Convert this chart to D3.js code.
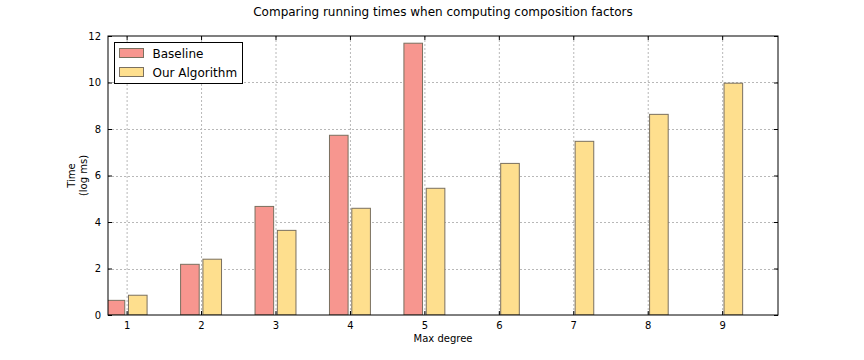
<!DOCTYPE html>
<html>
<head>
<meta charset="utf-8">
<script src="https://cdn.jsdelivr.net/npm/d3@7"></script>
<style>
  body { margin: 0; background: #fff; }
  svg { display: block; font-family: "DejaVu Sans", sans-serif; }
</style>
</head>
<body>
<div id="chart"></div>
<script>
// Data
const degrees = [1, 2, 3, 4, 5, 6, 7, 8, 9];
const baselineTimes = [0.63, 2.18, 4.67, 7.73, 11.69, null, null, null, null];
const ourTimes = [0.85, 2.40, 3.64, 4.59, 5.45, 6.52, 7.47, 8.63, 9.97];
const yTicks = [0, 2, 4, 6, 8, 10, 12];
const seriesNames = ['Baseline', 'Our Algorithm'];

// Layout
const width = 864;
const height = 360;
const margin = { left: 108, right: 86, top: 36, bottom: 45 };
const plotW = width - margin.left - margin.right;
const plotH = height - margin.top - margin.bottom;

const colors = ['#f7968f', '#fedf8e'];
const edgeColor = '#7a705f';
const barW = 0.25;
const offsets = [-0.275, 0.025];

const svg = d3.select('#chart')
    .append('svg')
    .attr('width', width)
    .attr('height', height);

const xScale = d3.scaleLinear()
    .domain([0.75, 9.75])
    .range([margin.left, margin.left + plotW]);

const yScale = d3.scaleLinear()
    .domain([0, 12])
    .range([margin.top + plotH, margin.top]);

// Clip so the first bar is cut at the axes edge
svg.append('clipPath')
    .attr('id', 'plot-clip')
    .append('rect')
    .attr('x', margin.left)
    .attr('y', margin.top)
    .attr('width', plotW)
    .attr('height', plotH);

// Grid lines
const grid = svg.append('g').attr('class', 'grid');
grid.selectAll('.gx')
    .data(degrees)
    .enter()
    .append('line')
    .attr('x1', d => xScale(d) + 0.5)
    .attr('x2', d => xScale(d) + 0.5)
    .attr('y1', margin.top)
    .attr('y2', margin.top + plotH)
    .attr('stroke', '#b8b8b8')
    .attr('stroke-dasharray', '2,2');
grid.selectAll('.gy')
    .data(yTicks.slice(1, -1))
    .enter()
    .append('line')
    .attr('x1', margin.left)
    .attr('x2', margin.left + plotW)
    .attr('y1', d => Math.round(yScale(d)) + 0.5)
    .attr('y2', d => Math.round(yScale(d)) + 0.5)
    .attr('stroke', '#b8b8b8')
    .attr('stroke-dasharray', '2,2');

// Bars
const bars = svg.append('g').attr('clip-path', 'url(#plot-clip)');
[baselineTimes, ourTimes].forEach((values, s) => {
    const rows = degrees.map((d, i) => ({ degree: d, value: values[i] }))
        .filter(d => d.value !== null);
    bars.selectAll('.bar-' + s)
        .data(rows)
        .enter()
        .append('rect')
        .attr('class', 'bar-' + s)
        .attr('x', d => xScale(d.degree + offsets[s]))
        .attr('y', d => yScale(d.value))
        .attr('width', xScale(barW) - xScale(0))
        .attr('height', d => yScale(0) - yScale(d.value))
        .attr('fill', colors[s])
        .attr('stroke', edgeColor)
        .attr('stroke-width', 1);
});

// Axes (ticks inside, mirrored on top/right)
const xAxis = d3.axisBottom(xScale).tickValues(degrees).tickSize(-4).tickPadding(7);
const yAxis = d3.axisLeft(yScale).tickValues(yTicks).tickSize(-4).tickPadding(7);

svg.append('g')
    .attr('transform', `translate(0, ${margin.top + plotH})`)
    .call(xAxis);
svg.append('g')
    .attr('transform', `translate(${margin.left}, 0)`)
    .call(yAxis);
svg.append('g')
    .attr('transform', `translate(0, ${margin.top})`)
    .call(d3.axisTop(xScale).tickValues(degrees).tickSize(-4).tickFormat(''));
svg.append('g')
    .attr('transform', `translate(${margin.left + plotW}, 0)`)
    .call(d3.axisRight(yScale).tickValues(yTicks).tickSize(-4).tickFormat(''));

svg.selectAll('.domain').remove();
svg.selectAll('.tick line').attr('stroke', '#000');
svg.selectAll('.tick text')
    .attr('font-family', '"DejaVu Sans", sans-serif')
    .attr('font-size', 10)
    .attr('fill', '#000');

// Frame
svg.append('rect')
    .attr('x', margin.left)
    .attr('y', margin.top)
    .attr('width', plotW)
    .attr('height', plotH)
    .attr('fill', 'none')
    .attr('stroke', '#000')
    .attr('stroke-width', 1);

// Title
svg.append('text')
    .attr('x', margin.left + plotW / 2)
    .attr('y', 16)
    .attr('text-anchor', 'middle')
    .attr('font-size', 12)
    .text('Comparing running times when computing composition factors');

// X label
svg.append('text')
    .attr('x', margin.left + plotW / 2)
    .attr('y', 342)
    .attr('text-anchor', 'middle')
    .attr('font-size', 10)
    .text('Max degree');

// Y label (two lines)
const yLabel = svg.append('text')
    .attr('transform', `translate(75, ${margin.top + plotH / 2}) rotate(-90)`)
    .attr('text-anchor', 'middle')
    .attr('font-size', 10);
yLabel.append('tspan').attr('x', 0).attr('dy', 0).text('Time');
yLabel.append('tspan').attr('x', 0).attr('dy', '1.2em').text('(log ms)');

// Legend
const legend = svg.append('g').attr('transform', 'translate(114.5, 42.5)');
legend.append('rect')
    .attr('width', 128)
    .attr('height', 41)
    .attr('fill', '#fff')
    .attr('stroke', '#000')
    .attr('stroke-width', 1);
seriesNames.forEach((name, i) => {
    const row = legend.append('g').attr('transform', `translate(0, ${i * 19})`);
    row.append('rect')
        .attr('x', 5)
        .attr('y', 6)
        .attr('width', 24)
        .attr('height', 9)
        .attr('fill', colors[i])
        .attr('stroke', edgeColor);
    row.append('text')
        .attr('x', 38)
        .attr('y', 15)
        .attr('font-size', 12)
        .text(name);
});
</script>
</body>
</html>
